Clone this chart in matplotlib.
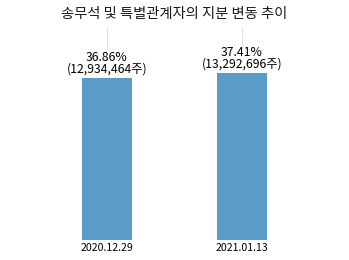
import matplotlib
matplotlib.use("Agg")
import matplotlib.pyplot as plt

plt.rcParams['font.family'] = ['Noto Sans CJK KR', 'DejaVu Sans']

title = "송무석 및 특별관계자의 지분 변동 추이"
dates = ["2020.12.29", "2021.01.13"]
pct = [36.86, 37.41]
shares = ["12,934,464", "13,292,696"]

fig = plt.figure(figsize=(3.49, 2.60), dpi=100)
ax = fig.add_axes([82/349 - 0.0, 20/260, 1 - 2*82/349 + 0.0, 200/260])

x = list(range(len(dates)))
ax.bar(x, pct, width=0.37, color="#5A9BC7")
ax.set_xlim(-0.185, 1.185)
ax.set_ylim(19.05, 41.05)

for xi, p, s in zip(x, pct, shares):
    ax.annotate(f"{p:.2f}%\n({s}주)", (xi, p), xytext=(0, 1.5), textcoords="offset points",
                ha="center", va="bottom", fontsize=8.8, linespacing=0.95, color="#000000")
    ax.plot([xi, xi], [40.2, 42.4], color="#e2e2e2", lw=0.8, zorder=0, clip_on=False)

ax.set_xticks(x)
ax.set_xticklabels(dates, fontsize=7.6, color="#000000")
ax.tick_params(axis='x', length=0, pad=2)
ax.set_yticks([])
for sp in ax.spines.values():
    sp.set_visible(False)

fig.text(0.5, 1 - 14/260, title, ha="center", va="center", fontsize=10.3, color="#1a1a1a")

fig.savefig("out.png", dpi=100)
